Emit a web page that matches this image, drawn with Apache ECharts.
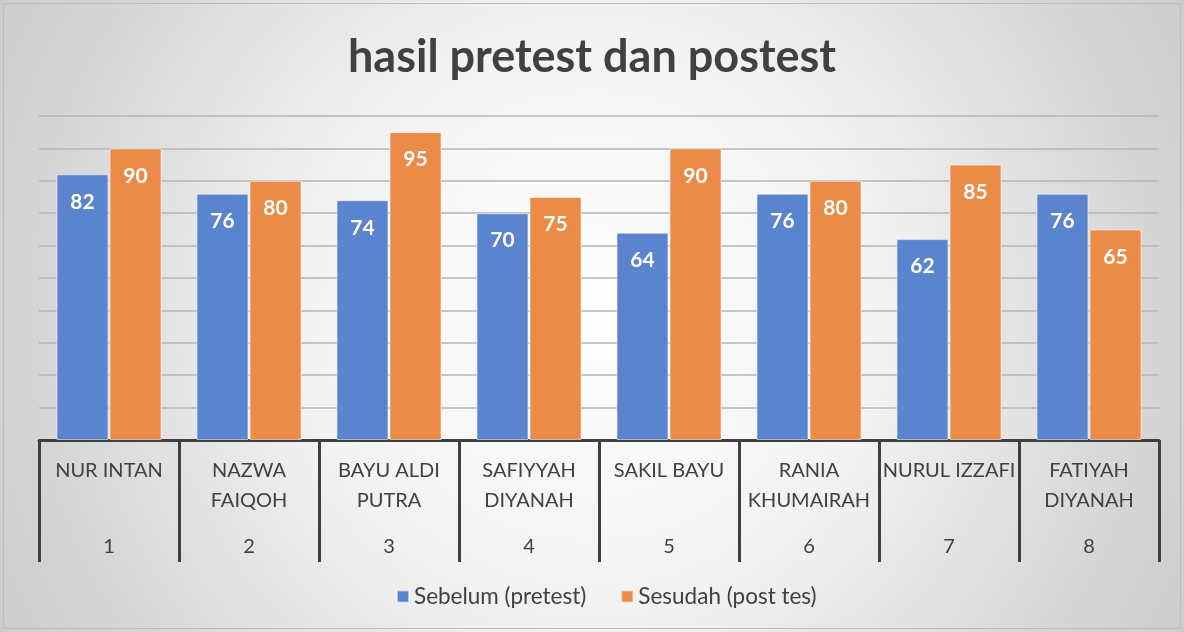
<!DOCTYPE html>
<html>
<head>
<meta charset="utf-8">
<script src="https://cdn.jsdelivr.net/npm/echarts@6/dist/echarts.min.js"></script>
<style>html,body{margin:0;padding:0;}#c{width:1184px;height:632px;}</style>
</head>
<body>
<div id="c"></div>
<script>
const names = ["NUR INTAN", "NAZWA\nFAIQOH", "BAYU ALDI\nPUTRA", "SAFIYYAH\nDIYANAH", "SAKIL BAYU", "RANIA\nKHUMAIRAH", "NURUL IZZAFI", "FATIYAH\nDIYANAH"];
const numbers = ["1", "2", "3", "4", "5", "6", "7", "8"];
const pretest = [82, 76, 74, 70, 64, 76, 62, 76];
const posttest = [90, 80, 95, 75, 90, 80, 85, 65];
const seriesNames = ["Sebelum (pretest)", "Sesudah (post tes)"];

const chart = echarts.init(document.getElementById('c'));
const txt = '#404040';
const font = 'Lato';
chart.setOption({
  backgroundColor: {
    type: 'radial', x: 0.5, y: 0.5, r: 1.1,
    colorStops: [{offset: 0, color: '#ffffff'}, {offset: 0.42, color: '#f2f2f2'}, {offset: 0.85, color: '#d2d2d2'}, {offset: 1, color: '#cbcbcb'}]
  },
  graphic: [{
    type: 'rect', shape: {x: 3.5, y: 3.5, width: 1177, height: 625},
    style: {fill: 'none', stroke: '#bdbdbd', lineWidth: 1}, silent: true
  }],
  title: {
    text: 'hasil pretest dan postest', left: 'center', top: 30,
    textStyle: {fontFamily: font, fontWeight: 'bold', fontSize: 45, color: txt}
  },
  legend: {
    bottom: 19, left: 391, itemWidth: 12, itemHeight: 12, itemGap: 34,
    icon: 'rect',
    textStyle: {fontFamily: font, fontSize: 22.5, color: txt}
  },
  grid: {left: 39, right: 25, top: 116, bottom: 192},
  xAxis: [{
    type: 'category', data: names, position: 'bottom',
    axisLine: {show: true, lineStyle: {color: '#404040', width: 3}},
    axisTick: {show: true, interval: 0, length: 122, lineStyle: {color: '#404040', width: 3}},
    axisLabel: {interval: 0, margin: 16, lineHeight: 30, fontFamily: font, fontSize: 20, color: txt,
      formatter: v => v.indexOf('\n') < 0 ? v + '\n ' : v}
  }, {
    type: 'category', data: numbers, position: 'bottom', offset: 0,
    axisLine: {show: false}, axisTick: {show: false},
    axisLabel: {interval: 0, margin: 96, lineHeight: 22, fontFamily: font, fontSize: 20, color: txt}
  }],
  yAxis: {
    type: 'value', min: 0, max: 100, interval: 10,
    axisLabel: {show: false}, axisLine: {show: false}, axisTick: {show: false},
    splitLine: {lineStyle: {color: '#b4b4b4', width: 1.5}}
  },
  series: [{
    name: seriesNames[0], type: 'bar', data: pretest, xAxisIndex: 0,
    barWidth: 52, barGap: '2%',
    itemStyle: {color: '#5A84CD', borderColor: 'rgba(255,255,255,0.55)', borderWidth: 1},
    label: {show: true, position: 'insideTop', distance: 17, color: '#fff', fontFamily: font, fontWeight: 'bold', fontSize: 21}
  }, {
    name: seriesNames[1], type: 'bar', data: posttest, xAxisIndex: 0,
    barWidth: 52, barGap: '2%',
    itemStyle: {color: '#EC8B48', borderColor: 'rgba(255,255,255,0.55)', borderWidth: 1},
    label: {show: true, position: 'insideTop', distance: 17, color: '#fff', fontFamily: font, fontWeight: 'bold', fontSize: 21}
  }]
});
</script>
</body>
</html>
